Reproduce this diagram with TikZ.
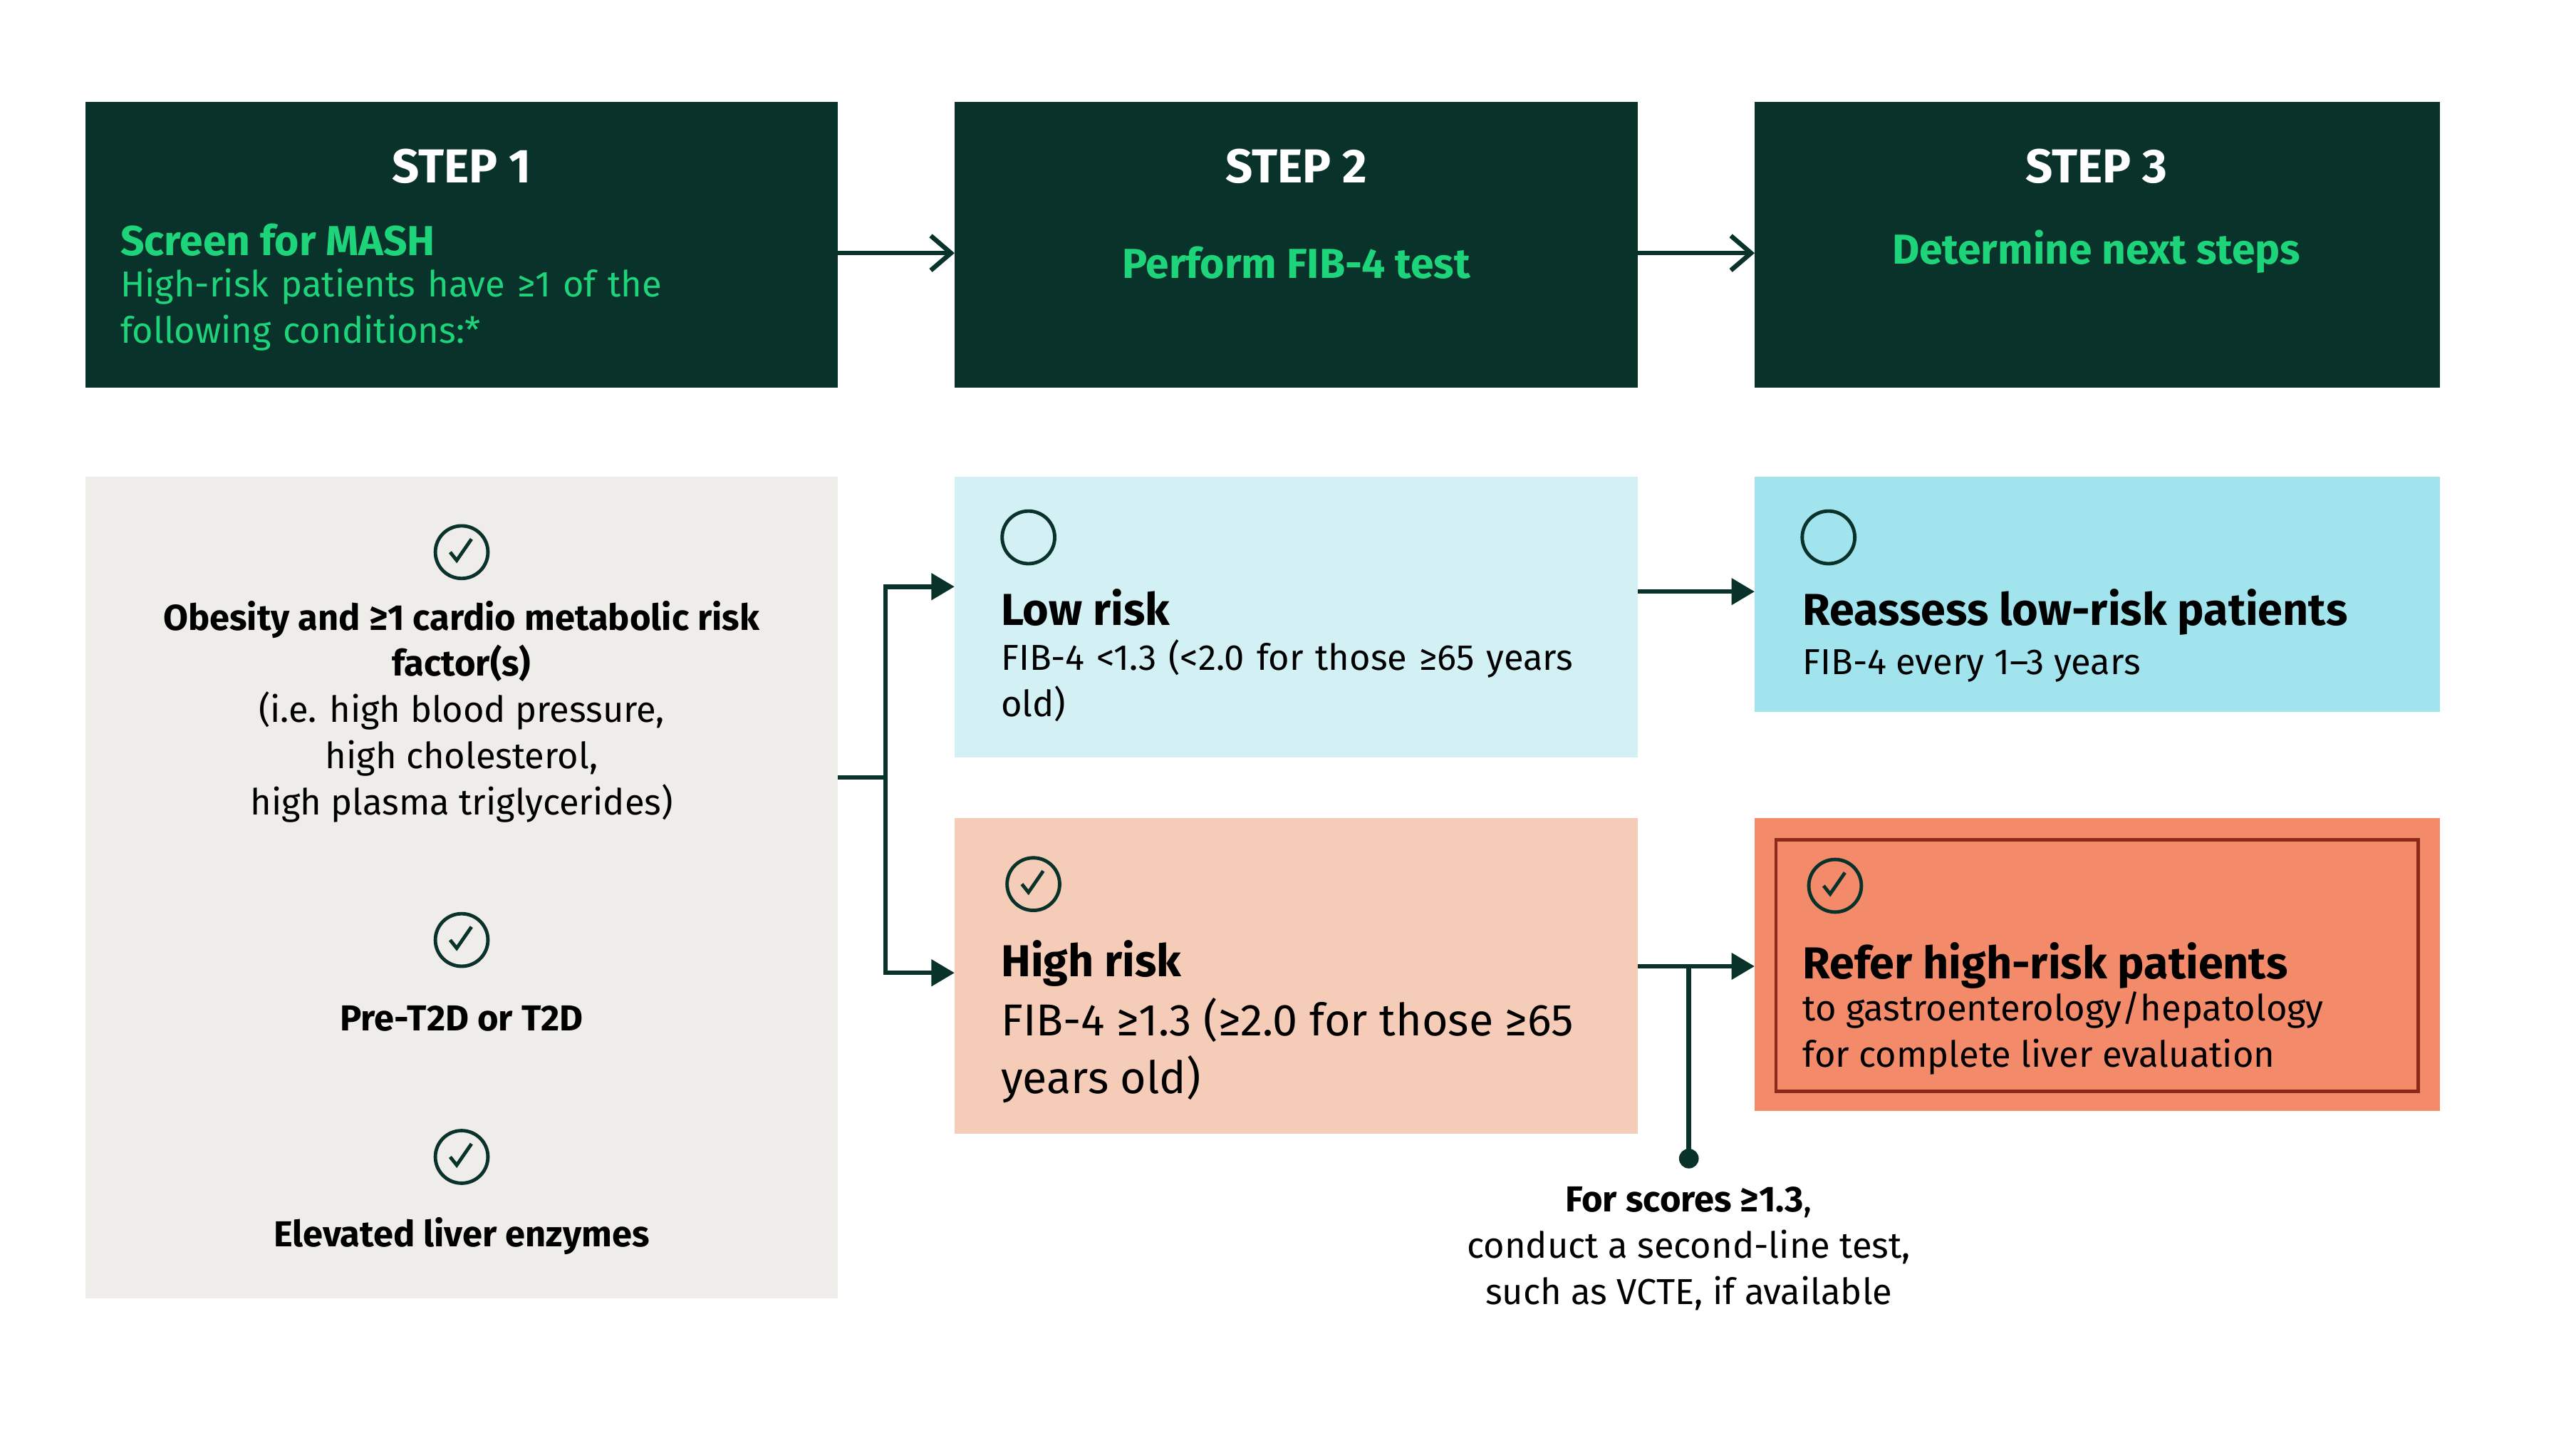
\documentclass[tikz,border=0pt]{standalone}
\usepackage{fontspec}
\setmainfont{Fira Sans}
\usetikzlibrary{arrows.meta,positioning,calc}
\definecolor{darkpine}{HTML}{08322A}
\definecolor{brightgreen}{HTML}{1ED47A}
\definecolor{stonegray}{HTML}{EFEDE9}
\definecolor{paleblue}{HTML}{D3F0F5}
\definecolor{skyblue}{HTML}{A2E4EE}
\definecolor{peach}{HTML}{F5CCB7}
\definecolor{coral}{HTML}{F38B6A}
\definecolor{rust}{HTML}{8B2A1A}
\newcommand{\tick}[1]{%
  \draw[darkpine,line width=1.2pt] (#1) circle (16);
  \draw[darkpine,line width=1.2pt] ($(#1)+(-7,0)$) -- ++(4,5) -- ++(9,-13);}
\begin{document}
\begin{tikzpicture}
              [x=0.02cm,y=-0.02cm,
                stephead/.style={font=\fontsize{16.5}{20}\selectfont\bfseries,text=white},
                sub/.style={font=\fontsize{14.5}{18}\selectfont\bfseries,text=brightgreen},
                body/.style={font=\fontsize{12.5}{16}\selectfont,align=left,anchor=north west,inner sep=0pt},
                mid/.style={font=\fontsize{12.5}{16}\selectfont,align=center},
                title/.style={font=\fontsize{15.5}{20}\selectfont\bfseries,anchor=north west,inner sep=0pt},
                link/.style={darkpine,line width=1.6pt,-{Straight Barb[length=7pt,width=12pt]}},
                tip/.style={darkpine,line width=1.6pt,-{Triangle[length=8pt,width=9pt]}}]
              \useasboundingbox (0,0) rectangle (1568,881);
              % step row
              \fill[darkpine] (52,62) rectangle (510,236);
              \fill[darkpine] (581,62) rectangle (997,236);
              \fill[darkpine] (1068,62) rectangle (1485,236);
              \node[stephead] (st1) at (281,101) {STEP 1};
              \node[stephead] (st2) at (789,101) {STEP 2};
              \node[stephead] (st3) at (1276,101) {STEP 3};
              \node[sub,anchor=west,inner sep=0pt] (mash) at (73,146) {Screen for MASH};
              \node[body,text=brightgreen,text width=360] (hr) at (73,163) {High-risk patients have ≥1 of the\\following conditions:*};
              \node[sub] (fib) at (789,160) {Perform FIB-4 test};
              \node[sub] (next) at (1276,153) {Determine next steps};
              \coordinate (a1) at (510,154); \coordinate (b1) at (581,154);
              \coordinate (a2) at (997,154); \coordinate (b2) at (1068,154);
              \draw[link] (a1) -- (b1);
              \draw[link] (a2) -- (b2);
              % boxes
              \fill[stonegray] (52,290) rectangle (510,790);
              \fill[paleblue] (581,290) rectangle (997,461);
              \fill[skyblue] (1068,290) rectangle (1485,433);
              \fill[peach] (581,498) rectangle (997,690);
              \fill[coral] (1068,498) rectangle (1485,676);
              \draw[rust,line width=1.2pt] (1081,511) rectangle (1472,664);
              % conditions
              \tick{281,336}
              \node[mid] (obes) at (281,433)
                {\textbf{Obesity and ≥1 cardio metabolic risk}\\\textbf{factor(s)}\\(i.e. high blood pressure,\\high cholesterol,\\high plasma triglycerides)};
              \tick{281,572}
              \node[mid,font=\fontsize{12.5}{16}\selectfont\bfseries] (t2d) at (281,620) {Pre-T2D or T2D};
              \tick{281,704}
              \node[mid,font=\fontsize{12.5}{16}\selectfont\bfseries] (liver) at (281,752) {Elevated liver enzymes};
              % step 2 results
              \draw[darkpine,line width=1.2pt] (626,327) circle (16);
              \node[title] (low) at (609,358) {Low risk};
              \node[body,text width=345] (lowt) at (609,389) {FIB-4 <1.3 (<2.0 for those ≥65 years\\old)};
              \tick{629,538}
              \node[title] (high) at (609,572) {High risk};
              \node[body,font=\fontsize{15.5}{20}\selectfont] (hight) at (609,607) {FIB-4 ≥1.3 (≥2.0 for those ≥65\\years old)};
              % step 3 results
              \draw[darkpine,line width=1.2pt] (1113,327) circle (16);
              \node[title] (reas) at (1097,358) {Reassess low-risk patients};
              \node[body] (reast) at (1097,395) {FIB-4 every 1--3 years};
              \tick{1117,539}
              \node[title] (refer) at (1097,573) {Refer high-risk patients};
              \node[body] (refert) at (1097,603) {to gastroenterology/hepatology\\for complete liver evaluation};
              % connectors
              \coordinate (c0) at (510,473); \coordinate (c1) at (539,473);
              \coordinate (lo) at (581,357); \coordinate (hi) at (581,592);
              \draw[darkpine,line width=1.6pt] (c0) -- (c1);
              \draw[tip] (c1) |- (lo);
              \draw[tip] (c1) |- (hi);
              \coordinate (l0) at (997,360); \coordinate (l1) at (1068,360);
              \draw[tip] (l0) -- (l1);
              \coordinate (h0) at (997,588); \coordinate (h1) at (1068,588);
              \coordinate (br) at (1028,588); \coordinate (dot) at (1028,705);
              \draw[tip] (h0) -- (h1);
              \draw[darkpine,line width=1.6pt] (br) -- (dot);
              \fill[darkpine] (dot) circle (6);
              \node[mid,anchor=north] (note) at (1028,716)
                {\textbf{For scores ≥1.3},\\conduct a second-line test,\\such as VCTE, if available};
            \end{tikzpicture}
\end{document}
